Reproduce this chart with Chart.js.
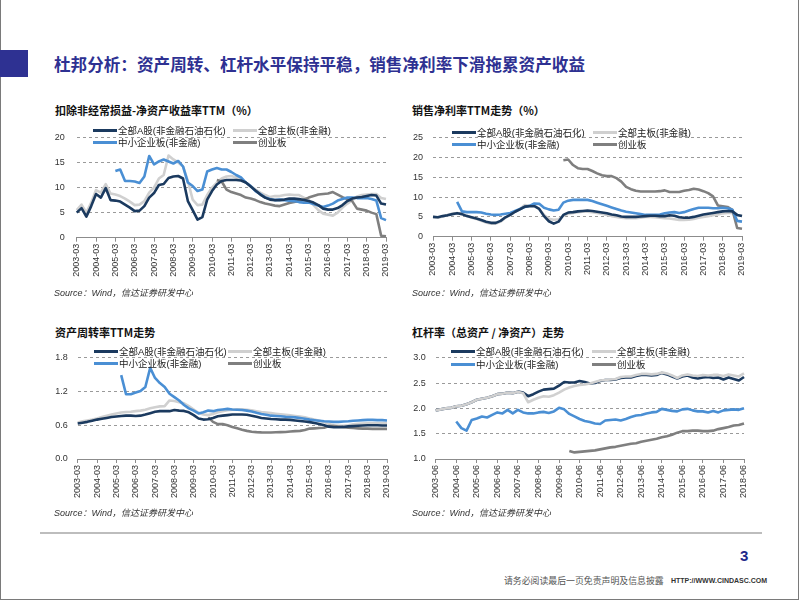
<!DOCTYPE html>
<html><head><meta charset="utf-8">
<script src="https://cdn.jsdelivr.net/npm/chart.js@4.4.0/dist/chart.umd.min.js"></script>
<style>
html,body{margin:0;padding:0;background:#fff;}
#page{position:relative;width:802px;height:602px;overflow:hidden;background:#fff;font-family:"Liberation Sans","Noto Sans CJK SC",sans-serif;}
.abs{position:absolute;white-space:nowrap;}
#frame{position:absolute;left:0;top:-2px;width:797px;height:601px;border-left:1px solid #7a7a7a;border-right:1px solid #7a7a7a;border-bottom:1px solid #7a7a7a;}
.ctitle{font-family:"Noto Sans CJK SC",sans-serif;font-weight:bold;font-size:11px;line-height:15px;color:#111;}
.src{font-style:italic;font-size:9px;line-height:12px;color:#333;}
.lg{font-size:9.5px;line-height:11px;color:#222;}
.sw{position:absolute;height:3px;width:24px;}
canvas{position:absolute;}
</style></head><body>
<div id="page">
  <div id="frame"></div>
  <div class="abs" style="left:0;top:50px;width:28px;height:27px;background:#2e3192;"></div>
  <div class="abs" style="left:54px;top:53px;font-family:'Noto Sans CJK SC',sans-serif;font-weight:bold;font-size:16.6px;line-height:22px;color:#2e3192;">杜邦分析：资产周转、杠杆水平保持平稳，销售净利率下滑拖累资产收益</div>

  <div class="abs ctitle" style="left:55px;top:103px;">扣除非经常损益-净资产收益率TTM（%）</div>
  <div class="abs ctitle" style="left:412px;top:103px;">销售净利率TTM走势（%）</div>
  <div class="abs ctitle" style="left:55px;top:325px;">资产周转率TTM走势</div>
  <div class="abs ctitle" style="left:412px;top:325px;">杠杆率（总资产 / 净资产）走势</div>

  <canvas id="c1" width="360" height="170" style="left:40px;top:120px;"></canvas>
  <canvas id="c2" width="360" height="170" style="left:400px;top:120px;"></canvas>
  <canvas id="c3" width="360" height="170" style="left:40px;top:340px;"></canvas>
  <canvas id="c4" width="360" height="170" style="left:400px;top:340px;"></canvas>

  <div id="legends"></div>

  <div class="abs src" style="left:54px;top:287px;">Source：Wind，信达证券研发中心</div>
  <div class="abs src" style="left:412px;top:287px;">Source：Wind，信达证券研发中心</div>
  <div class="abs src" style="left:54px;top:507px;">Source：Wind，信达证券研发中心</div>
  <div class="abs src" style="left:412px;top:507px;">Source：Wind，信达证券研发中心</div>

  <div class="abs" style="left:40px;top:532px;width:722px;height:2px;background:#bdbdbd;"></div>
  <div class="abs" style="left:740px;top:546px;font-weight:bold;font-size:15px;line-height:20px;color:#1f2a8a;">3</div>
  <div class="abs" style="left:504px;top:574px;font-size:8.9px;line-height:13px;color:#555;font-family:'Noto Sans CJK SC',sans-serif;">请务必阅读最后一页免责声明及信息披露</div>
  <div class="abs" style="left:671px;top:576px;font-size:7px;line-height:10px;font-weight:bold;color:#333;">HTTP://WWW.CINDASC.COM</div>
</div>
<script>
// ---------- series names & colours ----------
const seriesNames = ['全部A股(非金融石油石化)', '全部主板(非金融)', '中小企业板(非金融)', '创业板'];
const seriesColors = ['#1b3a5f', '#d0d0d0', '#4a8fd4', '#7f7f7f'];

// ---------- tick labels ----------
const yearTicksMar = ['2003-03','2004-03','2005-03','2006-03','2007-03','2008-03','2009-03','2010-03','2011-03','2012-03','2013-03','2014-03','2015-03','2016-03','2017-03','2018-03','2019-03'];
const yearTicksJun = ['2003-06','2004-06','2005-06','2006-06','2007-06','2008-06','2009-06','2010-06','2011-06','2012-06','2013-06','2014-06','2015-06','2016-06','2017-06','2018-06'];

// ---------- chart 1: ROE TTM (%) , 2003-03 .. 2019-03 quarterly ----------
const roeAll = [5.0,5.9,4.2,6.3, 8.7,8.0,9.9,7.5, 7.4,7.2,6.6,6.0, 5.3,5.4,6.3,8.0, 8.9,10.5,10.7,11.9, 12.2,12.3,11.8,7.3, 5.5,3.6,4.1,7.6, 9.3,10.6,11.3,11.5, 11.5,11.5,11.4,11.0, 10.2,9.4,8.6,8.0, 7.6,7.5,7.5,7.6, 7.8,7.8,7.7,7.5, 7.3,7.0,6.5,5.8, 5.6,5.6,5.9,6.5, 7.3,7.8,8.0,8.1, 8.3,8.5,8.4,6.8, 6.6];
const roeMain = [5.5,6.6,5.0,7.0, 9.5,9.0,10.7,8.8, 8.6,8.3,7.8,7.2, 6.5,6.6,7.3,9.0, 10.0,11.8,12.5,16.4, 15.6,15.0,14.2,11.3, 7.6,6.5,6.6,8.5, 10.0,11.0,11.8,12.2, 12.3,12.0,11.6,11.0, 10.3,9.6,9.0,8.5, 8.1,8.3,8.3,8.5, 8.6,8.5,8.5,8.0, 7.5,6.5,5.5,4.8, 4.6,4.4,5.0,6.0, 6.8,7.5,8.2,8.5, 8.6,8.7,8.7,7.9, 7.7];
const roeSME = [null,null,null,null, null,null,null,null, 13.3,13.6,11.3,11.3, 11.2,10.9,12.2,16.3, 14.6,15.2,15.6,15.2, 14.8,15.3,14.2,11.0, 10.3,9.3,9.6,13.2, 13.6,13.9,13.6,13.6, 13.1,12.5,12.0,11.0, 10.3,9.3,8.7,8.0, 7.7,7.5,7.6,7.5, 7.4,7.3,7.1,7.0, 7.0,6.7,6.4,6.1, 6.4,6.8,7.4,7.7, 8.0,8.0,7.9,7.9, 7.9,7.7,7.4,3.9, 3.5];
const roeGEM = [null,null,null,null, null,null,null,null, null,null,null,null, null,null,null,null, null,null,null,null, null,null,null,null, null,null,null,null, null,11.5,11.2,9.6, 9.1,8.8,8.5,8.0, 7.8,7.5,7.1,6.8, 6.6,6.4,6.3,6.6, 6.9,7.1,7.3,7.6, 8.0,8.3,8.6,8.7, 8.8,9.1,8.6,8.1, 7.7,7.3,5.8,5.6, 5.4,5.0,4.7,0.4, 0.3];

// ---------- chart 2: net profit margin TTM (%) ----------
const npmAll = [5.0,4.9,5.2,5.4, 5.7,5.9,5.7,5.2, 4.9,4.6,4.2,3.8, 3.5,3.5,4.0,4.9, 5.5,6.3,6.9,7.6, 7.7,7.7,7.0,5.2, 3.9,3.3,3.8,5.5, 6.1,6.2,6.4,6.5, 6.6,6.5,6.3,6.1, 5.9,5.6,5.4,5.1, 5.0,5.0,5.0,5.1, 5.2,5.3,5.3,5.2, 5.2,5.4,5.3,4.9, 4.8,4.8,5.0,5.3, 5.6,5.8,6.0,6.2, 6.4,6.5,6.4,5.5, 5.2];
const npmMain = [5.0,4.8,5.1,5.5, 5.8,6.0,5.8,5.3, 4.8,4.5,4.0,3.6, 3.3,3.3,3.8,4.8, 5.5,6.3,7.0,8.0, 7.8,7.9,7.0,5.5, 4.5,4.3,4.4,5.3, 5.8,6.0,6.2,6.3, 6.3,6.2,6.0,5.8, 5.5,5.2,5.0,4.8, 4.7,4.7,4.7,4.8, 5.0,5.0,4.9,4.8, 4.7,4.6,4.4,4.2, 4.2,4.3,4.5,4.8, 5.0,5.2,5.4,5.6, 5.9,6.0,6.0,5.5, 5.2];
const npmSME = [null,null,null,null, null,8.8,6.4,6.2, 6.2,6.2,6.1,5.8, 5.6,5.5,5.6,5.8, 6.0,6.5,7.0,7.5, 7.8,8.4,8.3,7.3, 6.9,6.6,6.8,8.6, 9.1,9.3,9.3,9.3, 9.3,9.0,8.6,8.2, 7.8,7.4,7.0,6.6, 6.3,6.1,5.9,5.7, 5.5,5.5,5.5,5.6, 5.9,6.1,6.2,6.0, 6.2,6.6,7.0,7.3, 7.3,7.3,7.2,7.2, 7.3,7.2,6.8,4.0, 3.8];
const npmGEM = [null,null,null,null, null,null,null,null, null,null,null,null, null,null,null,null, null,null,null,null, null,null,null,null, null,null,null,19.3, 19.5,18.1,17.3,17.1, 17.1,16.6,16.0,15.5, 15.3,15.3,14.8,13.9, 12.6,12.0,11.6,11.4, 11.4,11.4,11.4,11.5, 11.7,11.3,11.3,11.3, 11.6,11.8,12.1,11.9, 11.5,11.0,10.2,7.9, 7.7,7.5,6.8,2.2, 2.0];

// ---------- chart 3: asset turnover TTM ----------
const atoAll = [0.63,0.645,0.66,0.68, 0.70,0.715,0.73,0.745, 0.755,0.765,0.77,0.77, 0.765,0.77,0.79,0.815, 0.84,0.85,0.85,0.85, 0.87,0.86,0.855,0.83, 0.78,0.72,0.70,0.705, 0.73,0.76,0.77,0.78, 0.79,0.79,0.79,0.785, 0.77,0.75,0.73,0.72, 0.71,0.705,0.70,0.70, 0.695,0.685,0.675,0.665, 0.655,0.64,0.62,0.60, 0.575,0.565,0.565,0.57, 0.58,0.585,0.59,0.595, 0.60,0.60,0.60,0.595, 0.595];
const atoMain = [0.65,0.67,0.685,0.70, 0.72,0.745,0.77,0.79, 0.81,0.825,0.835,0.84, 0.85,0.86,0.875,0.90, 0.92,0.935,0.94,1.04, 1.03,1.01,0.99,0.94, 0.88,0.82,0.79,0.78, 0.80,0.83,0.85,0.865, 0.875,0.885,0.885,0.875, 0.865,0.85,0.835,0.825, 0.815,0.805,0.795,0.785, 0.775,0.765,0.755,0.74, 0.72,0.70,0.68,0.655, 0.62,0.60,0.59,0.59, 0.60,0.615,0.625,0.63, 0.635,0.635,0.635,0.635, 0.635];
const atoSME = [null,null,null,null, null,null,null,null, null,1.49,1.15,1.15, 1.18,1.21,1.28,1.62, 1.44,1.35,1.28,1.16, 1.10,1.04,0.96,0.90, 0.86,0.81,0.83,0.86, 0.85,0.87,0.88,0.89, 0.88,0.875,0.87,0.86, 0.845,0.82,0.80,0.785, 0.77,0.765,0.76,0.75, 0.745,0.74,0.73,0.715, 0.70,0.69,0.68,0.67, 0.665,0.66,0.66,0.665, 0.67,0.68,0.685,0.69, 0.695,0.695,0.69,0.69, 0.685];
const atoGEM = [null,null,null,null, null,null,null,null, null,null,null,null, null,null,null,null, null,null,null,null, null,null,null,null, null,null,null,0.74, 0.66,0.62,0.62,0.60, 0.57,0.545,0.52,0.50, 0.485,0.478,0.473,0.472, 0.472,0.475,0.478,0.48, 0.49,0.495,0.50,0.515, 0.54,0.545,0.55,0.555, 0.585,0.585,0.575,0.565, 0.555,0.55,0.545,0.54, 0.54,0.535,0.535,0.535, 0.535];

// ---------- chart 4: leverage (total assets / equity), 2003-06 .. 2018-06 ----------
const levAll = [1.96,1.98,2.00, 2.01,2.04,2.05,2.08, 2.12,2.17,2.19,2.21, 2.24,2.28,2.29,2.31, 2.30,2.33,2.31,2.24, 2.28,2.33,2.37,2.38, 2.39,2.45,2.52,2.51, 2.51,2.54,2.52,2.49, 2.50,2.54,2.56,2.56, 2.57,2.60,2.61,2.61, 2.64,2.66,2.66,2.65, 2.66,2.70,2.67,2.63, 2.59,2.63,2.65,2.61, 2.59,2.61,2.62,2.60, 2.61,2.57,2.61,2.58, 2.55,2.62];
const levMain = [1.96,1.98,2.00, 2.01,2.04,2.05,2.08, 2.12,2.17,2.19,2.21, 2.24,2.28,2.29,2.31, 2.30,2.33,2.30,2.12, 2.17,2.21,2.24,2.23, 2.26,2.31,2.37,2.41, 2.44,2.46,2.47,2.49, 2.52,2.55,2.56,2.57, 2.58,2.62,2.63,2.63, 2.66,2.68,2.68,2.67, 2.68,2.71,2.69,2.65, 2.60,2.65,2.67,2.65, 2.64,2.66,2.65,2.66, 2.66,2.64,2.67,2.65, 2.63,2.69];
const levSME = [null,null,null, null,1.74,1.61,1.56, 1.77,1.80,1.84,1.82, 1.87,1.92,1.90,1.97, 1.90,1.97,1.92,1.90, 1.90,1.92,1.93,1.91, 1.94,2.01,1.98,1.89, 1.84,1.79,1.75,1.73, 1.70,1.69,1.76,1.77, 1.78,1.76,1.79,1.83, 1.86,1.87,1.90,1.92, 1.93,1.99,1.97,1.95, 1.94,1.98,1.99,1.96, 1.94,1.94,1.92,1.95, 1.92,1.96,1.97,1.98, 1.97,2.00];
const levGEM = [null,null,null, null,null,null,null, null,null,null,null, null,null,null,null, null,null,null,null, null,null,null,null, null,null,null,1.16, 1.13,1.14,1.15,1.16, 1.17,1.19,1.21,1.23, 1.24,1.26,1.28,1.30, 1.31,1.34,1.36,1.38, 1.40,1.43,1.45,1.48, 1.52,1.55,1.55,1.56, 1.56,1.55,1.55,1.56, 1.59,1.61,1.63,1.66, 1.67,1.70];

// ---------- helpers ----------
const MONTHS = ['03','06','09','12'];
function buildQuarters(first, n) {
  let [y, m] = first.split('-');
  y = Number(y); let q = MONTHS.indexOf(m);
  const out = [];
  for (let k = 0; k < n; k++) {
    out.push(y + '-' + MONTHS[q]);
    q++; if (q === 4) { q = 0; y++; }
  }
  return out;
}

const FONT = '"Liberation Sans","Noto Sans CJK SC",sans-serif';

function makeChart(id, cfg) {
  const labels = buildQuarters(cfg.yearTicks[0], cfg.series[0].length);
  const tickSet = new Set(cfg.yearTicks);
  const datasets = cfg.series.map((data, k) => ({
    label: seriesNames[k],
    data: data,
    borderColor: seriesColors[k],
    backgroundColor: seriesColors[k],
    borderWidth: 2.6,
    pointRadius: 0,
    tension: 0,
    fill: false,
    spanGaps: false,
    borderJoinStyle: 'round',
    order: cfg.order[k]
  }));
  new Chart(document.getElementById(id), {
    type: 'line',
    data: { labels, datasets },
    options: {
      responsive: false,
      animation: false,
      devicePixelRatio: 1,
      layout: { padding: { left: 0, top: cfg.padTop, right: cfg.padRight, bottom: 0 } },
      plugins: { legend: { display: false }, title: { display: false }, tooltip: { enabled: false } },
      events: [],
      scales: {
        x: {
          type: 'category',
          offset: false,
          afterFit: s => { s.height = cfg.xH; },
          border: { display: true, color: '#8c8c8c', width: 1 },
          grid: {
            drawOnChartArea: false, drawTicks: true, tickLength: 4,
            color: ctx => tickSet.has(labels[ctx.index]) ? '#8c8c8c' : 'rgba(0,0,0,0)'
          },
          ticks: {
            autoSkip: false, maxRotation: 90, minRotation: 90, padding: 2,
            color: '#333', font: { family: FONT, size: 9 },
            callback: function (v, i) { const l = this.getLabelForValue(v); return tickSet.has(l) ? l : ''; }
          }
        },
        y: {
          min: cfg.yMin, max: cfg.yMax,
          afterFit: s => { s.width = cfg.yW; },
          border: { display: false, dash: [3, 3] },
          grid: { color: '#9a9a9a', drawTicks: false, lineWidth: 1 },
          ticks: {
            stepSize: cfg.yStep, padding: cfg.yPad, color: '#333',
            font: { family: FONT, size: 9 },
            callback: v => cfg.yDec ? Number(v).toFixed(cfg.yDec) : String(v)
          }
        }
      }
    }
  });
}

makeChart('c1', { series: [roeAll, roeMain, roeSME, roeGEM], yearTicks: yearTicksMar, order: [0, 3, 1, 2],
  yMin: 0, yMax: 20, yStep: 5, yDec: 0, yW: 36.7, yPad: 12, padTop: 15.7, padRight: 14, xH: 52.3 });
makeChart('c2', { series: [npmAll, npmMain, npmSME, npmGEM], yearTicks: yearTicksMar, order: [0, 3, 1, 2],
  yMin: 0, yMax: 25, yStep: 5, yDec: 0, yW: 33, yPad: 10, padTop: 17.7, padRight: 18, xH: 53.3 });
makeChart('c3', { series: [atoAll, atoMain, atoSME, atoGEM], yearTicks: yearTicksMar, order: [0, 3, 1, 2],
  yMin: 0, yMax: 1.8, yStep: 0.6, yDec: 1, yW: 37.7, yPad: 10, padTop: 17.7, padRight: 13, xH: 51 });
makeChart('c4', { series: [levAll, levMain, levSME, levGEM], yearTicks: yearTicksJun, order: [1, 0, 2, 3],
  yMin: 1.0, yMax: 3.0, yStep: 0.5, yDec: 1, yW: 35.7, yPad: 10, padTop: 17.7, padRight: 16, xH: 51 });

// ---------- HTML legends (overlapping the plot, as in the reference) ----------
const legendPos = [
  { x: [93, 233], y: [130, 142.3] },
  { x: [452, 593], y: [132.3, 144.3] },
  { x: [94, 228], y: [351, 363.3] },
  { x: [451, 592], y: [351.7, 364] }
];
const lgRoot = document.getElementById('legends');
legendPos.forEach(p => {
  seriesNames.forEach((name, k) => {
    const x = p.x[k % 2], y = p.y[Math.floor(k / 2)];
    const sw = document.createElement('div');
    sw.className = 'sw';
    sw.style.left = x + 'px'; sw.style.top = (y - 1.5) + 'px'; sw.style.background = seriesColors[k];
    lgRoot.appendChild(sw);
    const t = document.createElement('div');
    t.className = 'abs lg';
    t.style.left = (x + 25) + 'px'; t.style.top = (y - 5.5) + 'px';
    t.textContent = name;
    lgRoot.appendChild(t);
  });
});
</script>
</body></html>
